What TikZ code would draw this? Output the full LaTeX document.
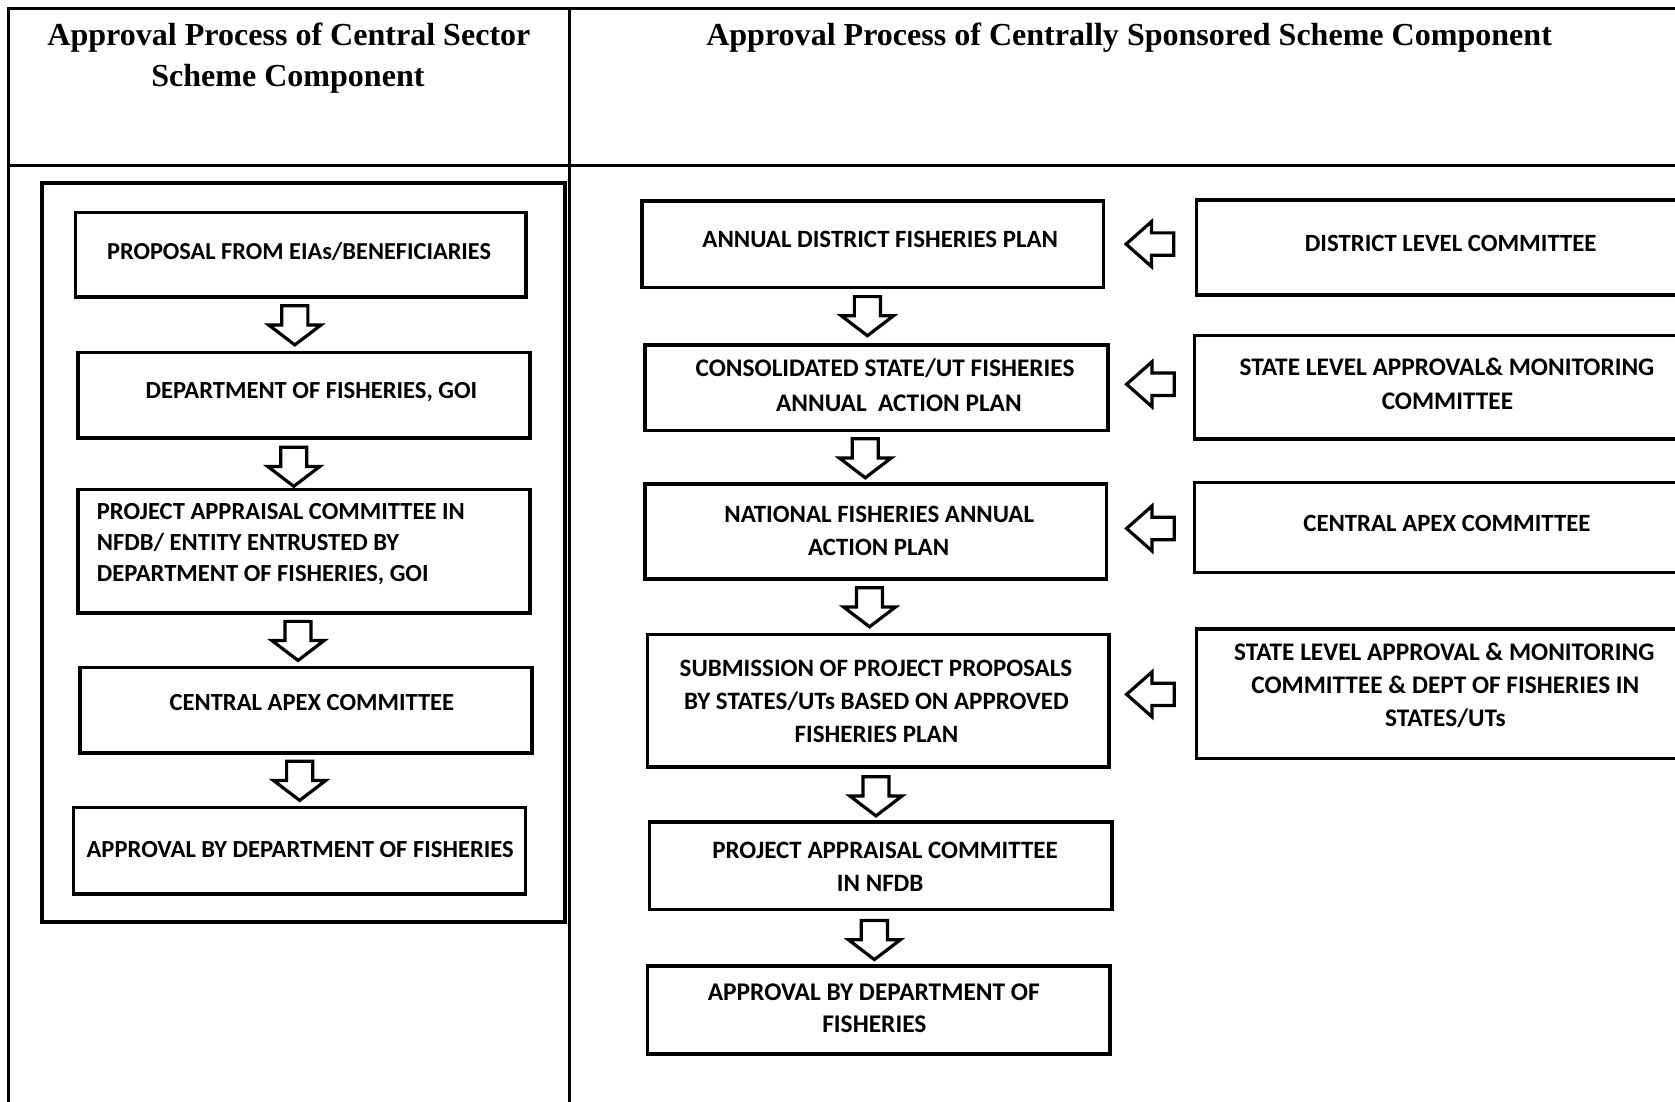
\documentclass[tikz,border=0pt]{standalone}
\usepackage{fontspec}
\setmainfont{Liberation Serif}
\newfontfamily\boxfont{Carlito}
\usetikzlibrary{calc}
\tikzset{
  frame/.style={line width=2.8pt},
  innerframe/.style={line width=3.6pt},
  box/.style={draw, line width=3.3pt, inner sep=0pt},
  txt/.style={font=\boxfont\bfseries\fontsize{23}{29}\selectfont, inner sep=0pt, anchor=base},
  fs/.style={font=\boxfont\bfseries\fontsize{#1}{29}\selectfont},
  head/.style={font=\bfseries\fontsize{30}{38}\selectfont, inner sep=0pt, anchor=base},
  arrline/.style={line width=3pt, line join=miter, fill=white},
  pics/downarr/.style={code={\draw[arrline] (-12.2,0) -- (12.2,0) -- (12.2,18) -- (24.4,18) -- (0,36.6) -- (-24.4,18) -- (-12.2,18) -- cycle;}},
  pics/leftarr/.style={code={\draw[arrline] (0,0) -- (23.7,-21) -- (23.7,-10.5) -- (44.6,-10.5) -- (44.6,10.5) -- (23.7,10.5) -- (23.7,21) -- cycle;}},
}
\begin{document}
\begin{tikzpicture}[x=1pt, y=-1pt]
\useasboundingbox (0,0) rectangle (1568,1031);
\clip (0,0) rectangle (1568,1031);
\fill[white] (0,0) rectangle (1568,1031);
% table frame
\draw[frame] (8,1040) -- (8,8) -- (1600,8);
\draw[frame] (8,155) -- (1600,155);
\draw[frame] (533.5,8) -- (533.5,1040);
% headers
\node[head] (h1a) at (270.5,42.8) {Approval Process of Central Sector};
\node[head] (h1b) at (269.5,81.1) {Scheme Component};
\node[head] (h2) at (1057,42.8) {Approval Process of Centrally Sponsored Scheme Component};
% left inner frame
\draw[innerframe] (39.4,171.6) rectangle (529,862.8);
% left column boxes
\node[box, minimum width=422, minimum height=79] (L1) at (281.5,238.3) {};
\node[box, minimum width=423, minimum height=80] (L2) at (284.5,370) {};
\node[box, minimum width=423, minimum height=116] (L3) at (284.5,516) {};
\node[box, minimum width=423, minimum height=80] (L4) at (286.5,665) {};
\node[box, minimum width=423, minimum height=81] (L5) at (280.5,796.5) {};
\node[txt, fs=22.8] (L1t) at (280,243) {PROPOSAL FROM EIAs/BENEFICIARIES};
\node[txt] (L2t) at (291.5,373) {DEPARTMENT OF FISHERIES, GOI};
\node[txt, anchor=base west] (L3a) at (90.5,486.2) {PROJECT APPRAISAL COMMITTEE IN};
\node[txt, anchor=base west] (L3b) at (90.5,514.9) {NFDB/ ENTITY ENTRUSTED BY};
\node[txt, anchor=base west] (L3c) at (90.5,544.6) {DEPARTMENT OF FISHERIES, GOI};
\node[txt] (L4t) at (292,665) {CENTRAL APEX COMMITTEE};
\node[txt] (L5t) at (281,803) {APPROVAL BY DEPARTMENT OF FISHERIES};
% left column arrows
\path (L1.south) ++(-5.5,6.8) pic {downarr};
\path (L2.south) ++(-9.5,7) pic {downarr};
\path (L3.south) ++(-5.5,6) pic {downarr};
\path (L4.south) ++(-6,6) pic {downarr};
% centre column boxes
\node[box, minimum width=432, minimum height=81] (A) at (817,228.5) {};
\node[box, minimum width=433, minimum height=80] (B) at (820.5,363) {};
\node[box, minimum width=432, minimum height=89] (C) at (820,497.5) {};
\node[box, minimum width=432, minimum height=124] (D) at (822,656) {};
\node[box, minimum width=433, minimum height=82] (E) at (824.5,810.5) {};
\node[box, minimum width=433, minimum height=82] (F) at (822.5,945.5) {};
\node[txt, fs=23.3] (At) at (824,232) {ANNUAL DISTRICT FISHERIES PLAN};
\node[txt, fs=23.7] (Bt1) at (828.5,352.6) {CONSOLIDATED STATE/UT FISHERIES};
\node[txt, fs=23.7] (Bt2) at (841.5,385.4) {ANNUAL\ \ ACTION PLAN};
\node[txt, fs=23.3] (Ct1) at (823,489) {NATIONAL FISHERIES ANNUAL};
\node[txt, fs=23.3] (Ct2) at (822.5,520) {ACTION PLAN};
\node[txt, fs=23.4] (Dt1) at (820,633) {SUBMISSION OF PROJECT PROPOSALS};
\node[txt, fs=23.4] (Dt2) at (820.5,664) {BY STATES/UTs BASED ON APPROVED};
\node[txt, fs=23.4] (Dt3) at (820.5,695) {FISHERIES PLAN};
\node[txt, fs=23.4] (Et1) at (828.5,803.6) {PROJECT APPRAISAL COMMITTEE};
\node[txt, fs=23.4] (Et2) at (824,834.8) {IN NFDB};
\node[txt, fs=23.8] (Ft1) at (818,936.3) {APPROVAL BY DEPARTMENT OF};
\node[txt, fs=23.8] (Ft2) at (818.5,966.8) {FISHERIES};
% centre column arrows
\path (A.south) ++(-5,7) pic {downarr};
\path (B.south) ++(-10.5,6) pic {downarr};
\path (C.south) ++(-6,6.5) pic {downarr};
\path (D.south) ++(-2,7.5) pic {downarr};
\path (E.south) ++(-6,8.5) pic {downarr};
% right column boxes
\node[box, minimum width=480, minimum height=89] (R1) at (1360,231.5) {};
\node[box, minimum width=482, minimum height=97] (R2) at (1359,362.5) {};
\node[box, minimum width=482, minimum height=84.5] (R3) at (1359,493.8) {};
\node[box, minimum width=480, minimum height=121] (R4) at (1360,649.5) {};
\node[txt, fs=23.2] (R1t) at (1358,235) {DISTRICT LEVEL COMMITTEE};
\node[txt, fs=23.7] (R2a) at (1354.5,351.5) {STATE LEVEL APPROVAL\& MONITORING};
\node[txt, fs=23.7] (R2b) at (1355,383.2) {COMMITTEE};
\node[txt, fs=23.2] (R3t) at (1354.5,497.7) {CENTRAL APEX COMMITTEE};
\node[txt, fs=23.7] (R4a) at (1352,618) {STATE LEVEL APPROVAL \& MONITORING};
\node[txt, fs=23.7] (R4b) at (1353,649) {COMMITTEE \& DEPT OF FISHERIES IN};
\node[txt, fs=23.7] (R4c) at (1353,680) {STATES/UTs};
% left-pointing arrows
\path (A.east) ++(19.5,0) pic {leftarr};
\path (B.east) ++(16,-3.3) pic {leftarr};
\path (C.east) ++(17,-2.8) pic {leftarr};
\path (D.east) ++(15,-6) pic {leftarr};
\end{tikzpicture}
\end{document}
